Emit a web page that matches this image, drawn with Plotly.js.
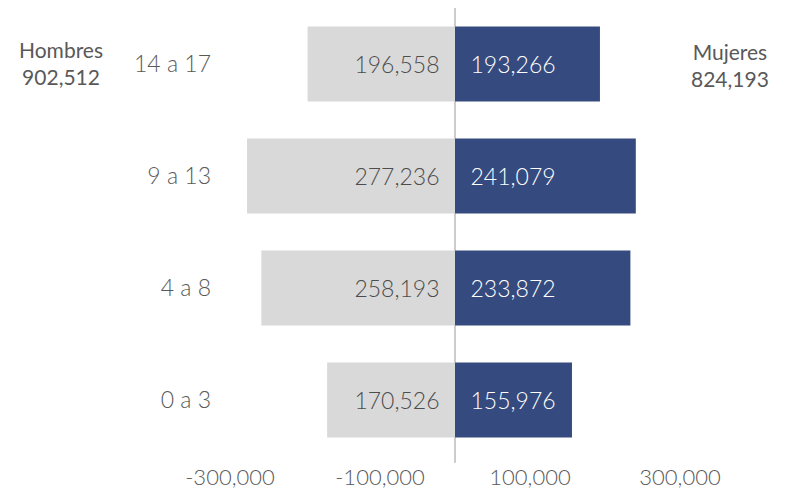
<!DOCTYPE html>
<html>
<head>
<meta charset="utf-8">
<script src="https://cdn.plot.ly/plotly-3.0.1.min.js"></script>
<style>html,body{margin:0;padding:0;background:#fff;}#chart{width:785px;height:493px;}</style>
</head>
<body>
<div id="chart"></div>
<script>
const categories = ["0 a 3", "4 a 8", "9 a 13", "14 a 17"];
const hombres = [170526, 258193, 277236, 196558];
const mujeres = [155976, 233872, 241079, 193266];
const tickValues = [-300000, -100000, 100000, 300000];
const tickLabels = ["-300,000", "-100,000", "100,000", "300,000"];
const totalHombres = "902,512";
const totalMujeres = "824,193";

const fmt = v => v.toLocaleString('en-US');
const FONT = "Lato, 'Open Sans', sans-serif";
const NB = '\u00a0\u00a0';

const traces = [
  {
    type: 'bar', orientation: 'h', name: 'Hombres',
    y: categories, x: hombres.map(v => -v),
    text: hombres.map(v => fmt(v) + NB), textposition: 'inside', insidetextanchor: 'start',
    textfont: {family: FONT, size: 23, color: '#4d4d4d', weight: 300},
    marker: {color: '#d9d9d9'}, width: 0.67, hoverinfo: 'skip'
  },
  {
    type: 'bar', orientation: 'h', name: 'Mujeres',
    y: categories, x: mujeres,
    text: mujeres.map(v => NB + fmt(v)), textposition: 'inside', insidetextanchor: 'start',
    textfont: {family: FONT, size: 23, color: '#ffffff', weight: 300},
    marker: {color: '#354a7e'}, width: 0.67, hoverinfo: 'skip'
  }
];

const L = 220, R = 720;
const px = 1333.33;
const layout = {
  width: 785, height: 493,
  margin: {l: L, r: 785 - R, t: 8, b: 37},
  paper_bgcolor: '#fff', plot_bgcolor: '#fff',
  barmode: 'overlay', showlegend: false,
  font: {family: FONT, color: '#595959'},
  xaxis: {
    range: [(L - 455) * px, (R - 455) * px],
    tickvals: tickValues, ticktext: tickLabels,
    showgrid: false, zeroline: false, showline: false, ticks: '',
    ticklabelstandoff: 6,
    tickfont: {family: FONT, size: 22, color: '#595959', weight: 300},
    fixedrange: true
  },
  yaxis: {
    type: 'category', categoryorder: 'array', categoryarray: categories,
    range: [-0.5, 3.5],
    showgrid: false, zeroline: false, showline: false, ticks: '',
    ticklabelstandoff: 8,
    tickfont: {family: FONT, size: 23, color: '#595959', weight: 300},
    fixedrange: true
  },
  shapes: [{
    type: 'line', xref: 'x', yref: 'paper', x0: 0, x1: 0, y0: -0.015, y1: 1,
    line: {color: '#cccccc', width: 2}, layer: 'below'
  }],
  annotations: [
    {xref: 'paper', yref: 'paper', x: (61 - L) / (R - L), y: (448 - 55) / 448,
     text: 'Hombres<br>' + totalHombres, showarrow: false, xanchor: 'center', yanchor: 'middle',
     font: {family: FONT, size: 21, color: '#595959'}},
    {xref: 'paper', yref: 'paper', x: (730 - L) / (R - L), y: (448 - 57) / 448,
     text: 'Mujeres<br>' + totalMujeres, showarrow: false, xanchor: 'center', yanchor: 'middle',
     font: {family: FONT, size: 21, color: '#595959'}}
  ]
};

Plotly.newPlot('chart', traces, layout, {displayModeBar: false, staticPlot: true});
</script>
</body>
</html>
